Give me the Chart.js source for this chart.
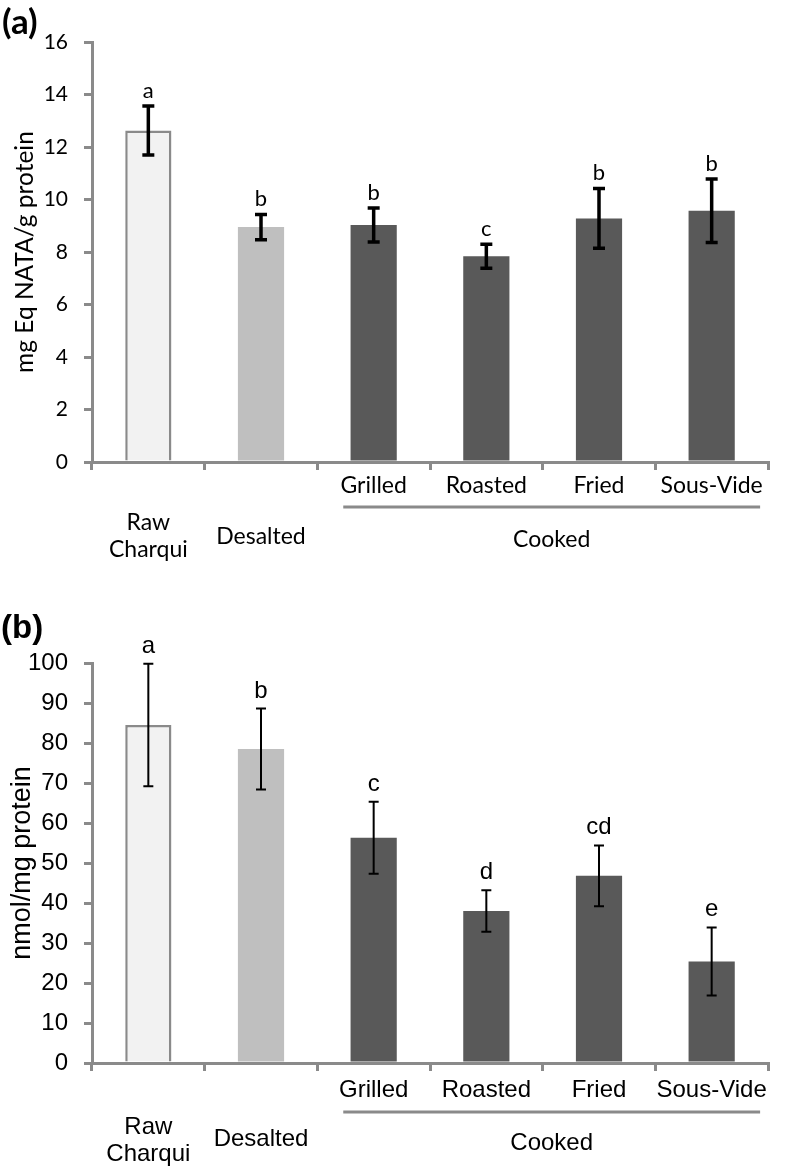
<!DOCTYPE html>
<html>
<head>
<meta charset="utf-8">
<script src="https://cdn.jsdelivr.net/npm/chart.js@4.4.1/dist/chart.umd.min.js"></script>
<style>
  body { margin: 0; background: #fff; }
  .panel { position: absolute; left: 0; width: 786px; }
  .tag { position: absolute; left: 2px; color: #000; line-height: 1; }
</style>
</head>
<body>
<div class="panel" style="top:0;height:580px"><canvas id="chartA" width="786" height="580"></canvas></div>
<div class="panel" style="top:580px;height:591px"><canvas id="chartB" width="786" height="591"></canvas></div>
<div class="tag" style="top:-1px;font:bold 35px Lato">(a)</div>
<div class="tag" style="top:608px;left:1px;font:bold 33px 'Liberation Sans'">(b)</div>

<script>
// treatments on the x axis
const treatments = ['Raw Charqui', 'Desalted', 'Grilled', 'Roasted', 'Fried', 'Sous-Vide'];

// (a) mg Eq NATA / g protein
const nataMean = [12.63, 8.95, 9.03, 7.84, 9.28, 9.57];
const nataErr = [0.93, 0.48, 0.65, 0.46, 1.14, 1.21];
const nataLetters = ['a', 'b', 'b', 'c', 'b', 'b'];

// (b) nmol / mg protein
const carbMean = [84.5, 78.5, 56.3, 38, 46.8, 25.4];
const carbErr = [15.3, 10.1, 9, 5.2, 7.6, 8.5];
const carbLetters = ['a', 'b', 'c', 'd', 'cd', 'e'];

const barColors = ['#f2f2f2', '#bfbfbf', '#595959', '#595959', '#595959', '#595959'];
const axisGray = '#8a8a8a';

function makeChart(id, cfg) {
  // error bars, letters and the two-level category labels
  const extras = {
    id: 'extras',
    afterDatasetsDraw(chart) {
      const ctx = chart.ctx;
      const y = chart.scales.y;
      const bars = chart.getDatasetMeta(0).data;
      ctx.save();
      ctx.strokeStyle = '#000';
      ctx.lineWidth = cfg.errWidth;
      ctx.fillStyle = '#000';
      ctx.font = cfg.letterCss;
      ctx.textAlign = 'center';
      ctx.textBaseline = 'alphabetic';
      bars.forEach((bar, i) => {
        const top = y.getPixelForValue(cfg.mean[i] + cfg.err[i]);
        const bot = y.getPixelForValue(cfg.mean[i] - cfg.err[i]);
        ctx.beginPath();
        ctx.moveTo(bar.x, top); ctx.lineTo(bar.x, bot);
        ctx.moveTo(bar.x - cfg.cap, top); ctx.lineTo(bar.x + cfg.cap, top);
        ctx.moveTo(bar.x - cfg.cap, bot); ctx.lineTo(bar.x + cfg.cap, bot);
        ctx.stroke();
        ctx.fillText(cfg.letters[i], bar.x, top - cfg.letterGap);
      });
      ctx.restore();
    },
    afterDraw(chart) {
      const ctx = chart.ctx;
      const x = chart.scales.x;
      const base = chart.chartArea.bottom;
      const cw = x.getPixelForValue(1) - x.getPixelForValue(0);
      ctx.save();
      ctx.fillStyle = '#000';
      ctx.font = cfg.labelCss;
      ctx.textAlign = 'center';
      ctx.textBaseline = 'middle';
      ctx.fillText('Raw', x.getPixelForValue(0), base + cfg.rawY);
      ctx.fillText('Charqui', x.getPixelForValue(0), base + cfg.rawY + cfg.lineGap);
      ctx.fillText('Desalted', x.getPixelForValue(1), base + cfg.desY);
      const x0 = x.getPixelForValue(2) - 0.27 * cw;
      const x1 = x.getPixelForValue(5) + 0.43 * cw;
      ctx.strokeStyle = axisGray;
      ctx.lineWidth = 3;
      ctx.beginPath();
      ctx.moveTo(x0, base + cfg.bracketY);
      ctx.lineTo(x1, base + cfg.bracketY);
      ctx.stroke();
      ctx.fillText('Cooked', (x0 + x1) / 2, base + cfg.cookedY);
      ctx.restore();
    }
  };

  return new Chart(document.getElementById(id), {
    type: 'bar',
    data: {
      labels: treatments,
      datasets: [{
        data: cfg.mean,
        backgroundColor: barColors,
        borderColor: ['#8a8a8a', '#bfbfbf', '#595959', '#595959', '#595959', '#595959'],
        borderWidth: [2.5, 0, 0, 0, 0, 0],
        barPercentage: 0.41,
        categoryPercentage: 1
      }]
    },
    options: {
      responsive: false,
      animation: false,
      events: [],
      layout: { padding: cfg.padding },
      plugins: { legend: { display: false }, tooltip: { enabled: false } },
      scales: {
        x: {
          grid: { offset: true, drawOnChartArea: false, color: axisGray, lineWidth: 3, tickLength: 8 },
          border: { color: axisGray, width: 3 },
          ticks: {
            autoSkip: false, maxRotation: 0, padding: cfg.xPad, color: '#000', font: cfg.labelFont,
            callback: (v, i) => i < 2 ? '' : treatments[i]
          },
          afterFit: s => { s.height = cfg.xHeight; }
        },
        y: {
          min: 0, max: cfg.max,
          ticks: { stepSize: cfg.step, padding: 16, color: '#000', font: cfg.tickFont },
          grid: { drawOnChartArea: false, color: axisGray, lineWidth: 3, tickLength: 8 },
          border: { color: axisGray, width: 3 },
          title: { display: true, text: cfg.title, color: '#000', font: cfg.titleFont, padding: { top: cfg.titlePad, bottom: 0 } },
          afterFit: s => { s.width = 92; }
        }
      }
    },
    plugins: [extras]
  });
}

makeChart('chartA', {
  mean: nataMean, err: nataErr, letters: nataLetters,
  max: 16, step: 2,
  title: 'mg Eq NATA/g protein',
  tickFont: { family: 'Lato', size: 21 },
  labelFont: { family: 'Lato', size: 23 }, labelCss: '23px Lato',
  letterCss: '22px Lato',
  titleFont: { family: 'Lato', size: 24.5 }, titlePad: 10,
  padding: { top: 42, right: 18, left: 0, bottom: 0 },
  xHeight: 118, xPad: 2,
  errWidth: 3.5, cap: 6, letterGap: 8,
  rawY: 60.5, lineGap: 27.5, desY: 74.5, bracketY: 45, cookedY: 77.5
});

makeChart('chartB', {
  mean: carbMean, err: carbErr, letters: carbLetters,
  max: 100, step: 10,
  title: 'nmol/mg protein',
  tickFont: { family: 'Liberation Sans', size: 24 },
  labelFont: { family: 'Liberation Sans', size: 24 }, labelCss: '24px "Liberation Sans"',
  letterCss: '24px "Liberation Sans"',
  titleFont: { family: 'Liberation Sans', size: 27 }, titlePad: 6,
  padding: { top: 83, right: 18, left: 0, bottom: 0 },
  xHeight: 108, xPad: 5,
  errWidth: 2, cap: 5, letterGap: 11,
  rawY: 64, lineGap: 27.5, desY: 76.5, bracketY: 49, cookedY: 80.5
});
</script>
</body>
</html>
